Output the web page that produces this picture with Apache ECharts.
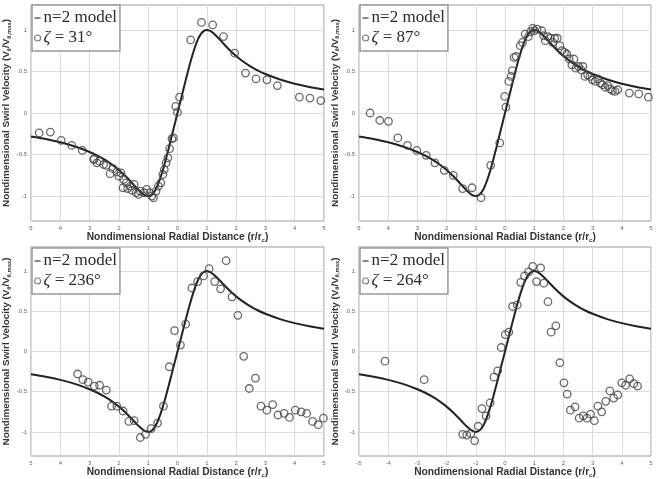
<!DOCTYPE html>
<html><head><meta charset="utf-8">
<script src="https://cdn.jsdelivr.net/npm/echarts@6/dist/echarts.min.js"></script>
<style>html,body{margin:0;padding:0;background:#fff}#c{width:664px;height:479px}</style>
</head><body><div id="c"></div>
<script>
// model curve (n=2 model)
const modelX = [-5,-4.5,-4,-3.5,-3,-2.75,-2.5,-2.25,-2,-1.75,-1.5,-1.4,-1.3,-1.2,-1.1,-1,-0.9,-0.8,-0.7,-0.6,-0.5,-0.4,-0.3,-0.2,-0.1,0,0.1,0.2,0.3,0.4,0.5,0.6,0.7,0.8,0.9,1,1.1,1.2,1.3,1.4,1.5,1.75,2,2.25,2.5,2.75,3,3.5,4,4.5,5];
const modelY = [-0.283,-0.314,-0.353,-0.403,-0.469,-0.510,-0.559,-0.617,-0.686,-0.768,-0.862,-0.900,-0.936,-0.968,-0.991,-1.0,-0.989,-0.953,-0.889,-0.798,-0.686,-0.559,-0.423,-0.283,-0.141,0,0.141,0.283,0.423,0.559,0.686,0.798,0.889,0.953,0.989,1.0,0.991,0.968,0.936,0.900,0.862,0.768,0.686,0.617,0.559,0.510,0.469,0.403,0.353,0.314,0.283];

const labels = ['ζ = 31°','ζ = 87°','ζ = 236°','ζ = 264°'];

const z31X = [-4.72,-4.34,-3.97,-3.61,-3.25,-2.86,-2.84,-2.75,-2.66,-2.52,-2.43,-2.30,-2.20,-2.07,-2.00,-1.93,-1.84,-1.75,-1.86,-1.70,-1.61,-1.56,-1.48,-1.41,-1.33,-1.27,-1.14,-1.05,-0.95,-0.88,-0.82,-0.73,-0.65,-0.57,-0.50,-0.45,-0.39,-0.33,-0.27,-0.19,-0.14,-0.06,0.00,0.07,0.45,0.82,1.20,1.57,1.95,2.32,2.68,3.05,3.41,4.16,4.52,4.89];
const z31Y = [-0.24,-0.23,-0.33,-0.39,-0.45,-0.56,-0.55,-0.60,-0.58,-0.62,-0.63,-0.73,-0.67,-0.71,-0.76,-0.72,-0.80,-0.84,-0.90,-0.91,-0.88,-0.93,-0.86,-0.96,-0.98,-0.94,-0.96,-0.92,-0.96,-1.00,-1.02,-0.94,-0.88,-0.84,-0.74,-0.68,-0.60,-0.54,-0.43,-0.31,-0.30,0.08,0.01,0.19,0.88,1.09,1.06,0.92,0.72,0.48,0.41,0.40,0.33,0.19,0.18,0.15];

const z87X = [-4.62,-4.29,-3.99,-3.67,-3.34,-3.02,-2.70,-2.40,-2.08,-1.77,-1.45,-1.13,-0.82,-0.49,-0.18,-0.01,0.03,0.13,0.21,0.25,0.31,0.38,0.52,0.60,0.69,0.80,0.88,0.95,1.01,1.10,1.26,1.32,1.38,1.47,1.55,1.63,1.70,1.79,1.88,1.95,2.04,2.12,2.20,2.29,2.36,2.43,2.52,2.61,2.67,2.74,2.83,2.91,2.99,3.09,3.18,3.26,3.34,3.43,3.52,3.60,3.68,3.77,3.86,4.26,4.58,4.91];
const z87Y = [0.00,-0.09,-0.10,-0.30,-0.39,-0.45,-0.51,-0.60,-0.69,-0.75,-0.91,-0.90,-1.02,-0.63,-0.36,0.20,0.07,0.38,0.44,0.51,0.67,0.68,0.81,0.85,0.95,0.92,0.98,1.02,0.99,1.01,0.99,0.93,0.87,0.92,0.90,0.85,0.90,0.90,0.81,0.75,0.73,0.71,0.65,0.58,0.65,0.54,0.56,0.52,0.56,0.44,0.46,0.44,0.40,0.38,0.41,0.36,0.34,0.31,0.33,0.29,0.27,0.26,0.28,0.24,0.23,0.19];

const z236X = [-3.41,-3.23,-3.05,-2.84,-2.66,-2.43,-2.25,-2.07,-1.86,-1.66,-1.48,-1.27,-1.09,-0.90,-0.68,-0.48,-0.28,-0.10,0.10,0.28,0.49,0.69,0.89,1.08,1.27,1.47,1.66,1.86,2.06,2.26,2.45,2.66,2.85,3.05,3.25,3.43,3.64,3.82,4.02,4.22,4.41,4.61,4.80,4.98];
const z236Y = [-0.28,-0.35,-0.38,-0.43,-0.42,-0.48,-0.68,-0.68,-0.74,-0.87,-0.86,-1.07,-1.03,-0.96,-0.89,-0.68,-0.19,0.26,0.08,0.34,0.79,0.87,0.94,1.03,0.87,0.78,1.13,0.68,0.45,-0.06,-0.46,-0.33,-0.68,-0.73,-0.66,-0.79,-0.77,-0.82,-0.73,-0.75,-0.77,-0.87,-0.91,-0.83];

const z264X = [-4.11,-2.77,-1.45,-1.31,-1.17,-1.04,-0.92,-0.79,-0.65,-0.51,-0.38,-0.25,-0.13,0.01,0.13,0.26,0.42,0.54,0.67,0.81,0.95,1.08,1.22,1.33,1.47,1.58,1.74,1.88,2.02,2.13,2.24,2.40,2.54,2.68,2.81,2.93,3.06,3.18,3.31,3.45,3.59,3.72,3.86,4.00,4.13,4.27,4.41,4.54];
const z264Y = [-0.12,-0.35,-1.03,-1.04,-1.02,-1.11,-0.93,-0.71,-0.80,-0.64,-0.32,-0.24,0.05,0.21,0.24,0.56,0.58,0.86,0.94,0.99,1.06,0.87,1.04,0.85,0.62,0.24,0.32,-0.14,-0.39,-0.53,-0.73,-0.69,-0.83,-0.80,-0.83,-0.78,-0.86,-0.68,-0.75,-0.62,-0.49,-0.58,-0.54,-0.39,-0.42,-0.34,-0.40,-0.43];

const xTicks = [-5,-4,-3,-2,-1,0,1,2,3,4,5];
const yTicks = [-1,-0.5,0,0.5,1];

const pts = [[z31X,z31Y],[z87X,z87Y],[z236X,z236Y],[z264X,z264Y]];
const zip = (a,b) => a.map((v,i)=>[v,b[i]]);

const grids = [
  {left:31, top:5, width:293, height:216},
  {left:359, top:5, width:292, height:216},
  {left:31, top:247, width:293, height:216},
  {left:359, top:247, width:292, height:216}
];

const sans = 'Liberation Sans, Arial, sans-serif';
const serif = 'Liberation Serif, Times New Roman, serif';

const option = {
  backgroundColor:'#fff',
  animation:false,
  grid: grids.map(g => Object.assign({show:true, borderColor:'#9a9a9a', borderWidth:1, backgroundColor:'#fff'}, g)),
  xAxis: grids.map((g,i)=>({
    type:'value', gridIndex:i, min:-5, max:5, interval:1,
    name:'Nondimensional Radial Distance (r/r{s|c})', nameLocation:'middle', nameGap:11,
    nameTextStyle:{fontFamily:sans, fontWeight:'bold', fontSize:10.2, color:'#333',
      rich:{s:{fontSize:6, fontFamily:sans, fontWeight:'bold', color:'#333', padding:[5,0,0,0]}}},
    axisLine:{show:false}, axisTick:{show:false},
    axisLabel:{fontSize:6, color:'#666', fontFamily:sans, margin:4,
      formatter: v => i===3 ? String(v) : String(Math.abs(v))},
    splitLine:{show:true, lineStyle:{color:'#dcdcdc', width:1}}
  })),
  yAxis: grids.map((g,i)=>({
    type:'value', gridIndex:i, min:-1.3, max:1.3,
    name:'Nondimensional Swirl Velocity (V{s|θ}/V{s|θ,max})', nameLocation:'middle', nameGap: (i%2===0)?19:15,
    nameRotate:90,
    nameTextStyle:{fontFamily:sans, fontWeight:'bold', fontSize:9.9, color:'#333',
      rich:{s:{fontSize:5.8, fontFamily:sans, fontWeight:'bold', color:'#333', padding:[5,0,0,0]}}},
    axisLine:{show:false},
    axisTick:{show:false, customValues:yTicks},
    axisLabel:{fontSize:6, color:'#666', fontFamily:sans, margin:4, customValues:yTicks},
    splitLine:{show:true, lineStyle:{color:'#dcdcdc', width:1}}
  })),
  legend: grids.map((g,i)=>({
    left:g.left+1, top:g.top + (i<2?0:1), orient:'vertical',
    backgroundColor:'#fff', borderColor:'#9a9a9a', borderWidth:1.5,
    padding:[3,3,3,2], itemGap:0, itemWidth:6, itemHeight:14,
    formatter: n => n.replace('ζ','{i|ζ}'),
    textStyle:{fontFamily:serif, fontSize:17, lineHeight:20, color:'#2a2a2a', padding:[0,0,0,-2],
      rich:{i:{fontFamily:serif, fontSize:17, fontStyle:'italic', color:'#2a2a2a'}}},
    data:[
      {name:'n=2 model', icon:'path://M0,0 L10,0 L10,1.8 L0,1.8 Z', itemStyle:{color:'#222'}},
      {name:labels[i], icon:'circle', itemStyle:{color:'#fff', borderColor:'#555', borderWidth:1.2}}
    ]
  })),
  series: [].concat(...grids.map((g,i)=>[
    {type:'line', name:'n=2 model', xAxisIndex:i, yAxisIndex:i, data:zip(modelX,modelY),
      showSymbol:false, symbol:'none', smooth:0.3, lineStyle:{color:'#222', width:2}, itemStyle:{color:'#222'}, z:3},
    {type:'scatter', name:labels[i], xAxisIndex:i, yAxisIndex:i, data:zip(pts[i][0],pts[i][1]),
      symbol:'circle', symbolSize:7.5, itemStyle:{color:'rgba(0,0,0,0)', borderColor:'#444', borderWidth:1.3}, z:4}
  ]))
};
const chart = echarts.init(document.getElementById('c'), null, {renderer:'canvas'});
chart.setOption(option);
</script>
</body></html>
